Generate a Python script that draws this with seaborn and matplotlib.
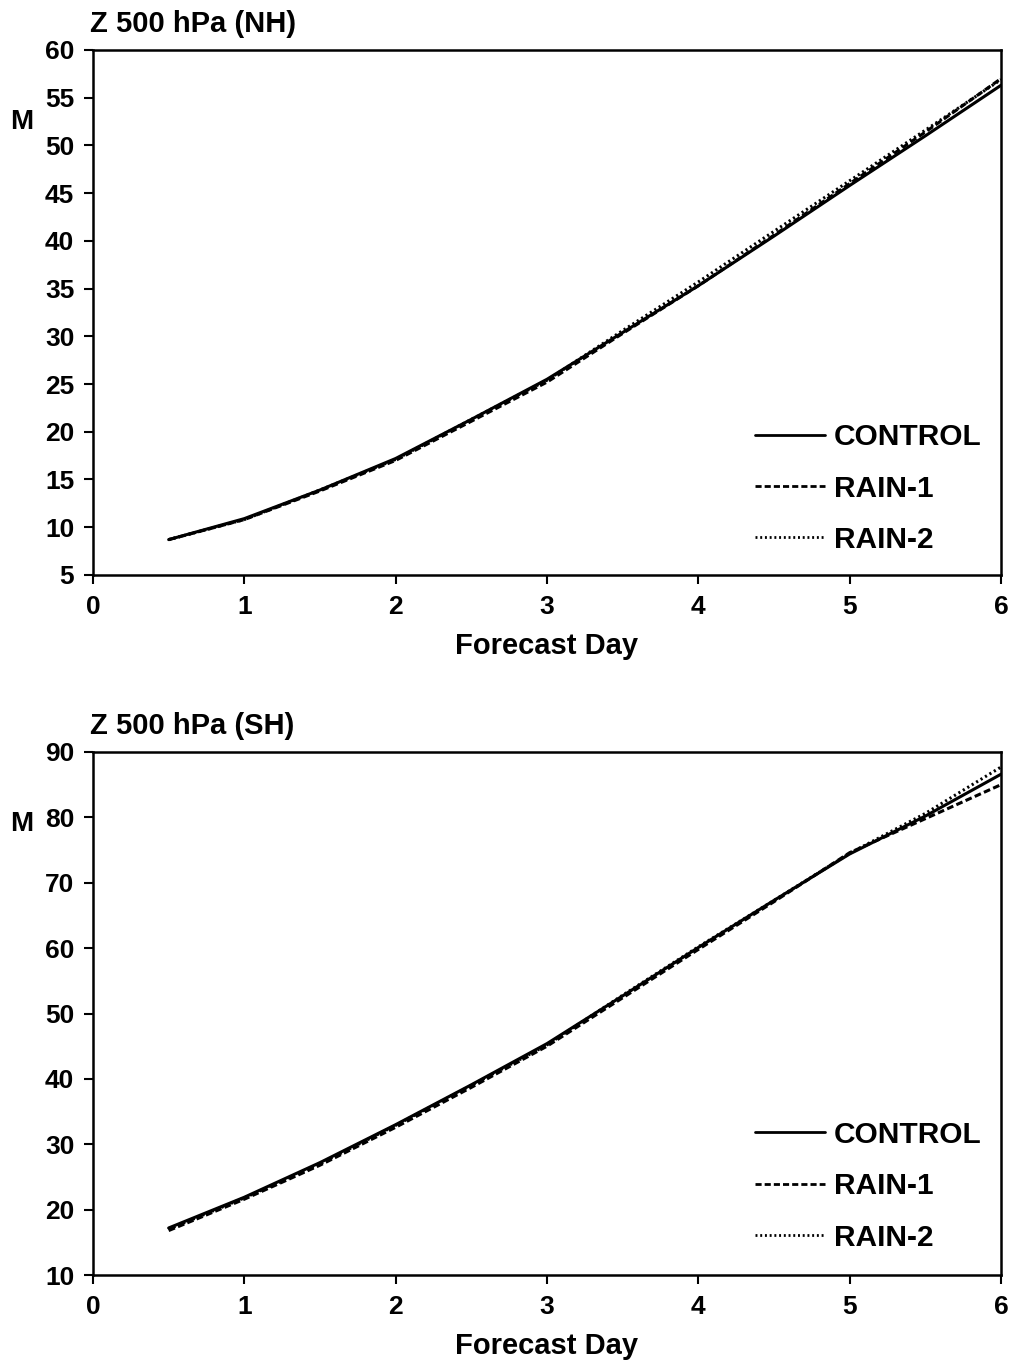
import numpy as np
import pandas as pd
import matplotlib
matplotlib.use('Agg')
import matplotlib.pyplot as plt
import seaborn as sns

##### data #####
days = [0.5, 1.0, 1.5, 2.0, 2.5, 3.0, 3.5, 4.0, 4.5, 5.0, 5.5, 6.0]

nh_control = [8.7, 10.9, 13.9, 17.2, 21.3, 25.5, 30.4, 35.3, 40.5, 45.8, 51.0, 56.3]
nh_rain1 = [8.7, 10.8, 13.8, 17.0, 21.1, 25.2, 30.3, 35.3, 40.6, 46.0, 51.4, 57.0]
nh_rain2 = [8.7, 10.8, 13.9, 17.1, 21.3, 25.4, 30.6, 35.7, 41.0, 46.3, 51.6, 56.9]

sh_control = [17.2, 21.9, 27.2, 33.0, 39.1, 45.4, 52.7, 60.1, 67.3, 74.4, 80.2, 86.6]
sh_rain1 = [16.8, 21.6, 26.8, 32.6, 38.7, 45.0, 52.4, 59.8, 67.1, 74.6, 79.8, 85.0]
sh_rain2 = [17.0, 21.8, 27.0, 32.9, 39.0, 45.2, 52.8, 60.2, 67.3, 74.5, 80.6, 87.7]

runs = ['CONTROL', 'RAIN-1', 'RAIN-2']

##### style #####
sns.set_style('ticks')
plt.rcParams['font.family'] = ['Liberation Sans', 'DejaVu Sans']
plt.rcParams['font.weight'] = 'bold'
for key in ['text.color', 'axes.labelcolor', 'xtick.color', 'ytick.color', 'axes.edgecolor']:
    plt.rcParams[key] = 'black'


def make_df(ctrl, r1, r2):
    frames = []
    for name, vals in zip(runs, [ctrl, r1, r2]):
        frames.append(pd.DataFrame({'Day': days, 'Value': vals, 'Run': name}))
    return pd.concat(frames, ignore_index=True)


panels = [
    {'title': 'Z 500 hPa (NH)', 'df': make_df(nh_control, nh_rain1, nh_rain2),
     'ylim': (5, 60), 'yticks': np.arange(5, 61, 5),
     'rect': [0.0917, 0.5788, 0.8955, 0.3846], 'leg_y': 0.04},
    {'title': 'Z 500 hPa (SH)', 'df': make_df(sh_control, sh_rain1, sh_rain2),
     'ylim': (10, 90), 'yticks': np.arange(10, 91, 10),
     'rect': [0.0917, 0.0659, 0.8955, 0.3832], 'leg_y': 0.045},
]

fig = plt.figure(figsize=(10.14, 13.65), dpi=100)

for p in panels:
    ax = fig.add_axes(p['rect'])
    sns.lineplot(data=p['df'], x='Day', y='Value', hue='Run', style='Run',
                 palette={r: 'black' for r in runs},
                 dashes={'CONTROL': '', 'RAIN-1': (2.2, 1.1), 'RAIN-2': (0.7, 1.0)},
                 linewidth=2.2, ax=ax)
    ax.set_xlim(0, 6)
    ax.set_ylim(*p['ylim'])
    ax.set_xticks(range(0, 7))
    ax.set_yticks(p['yticks'])
    ax.tick_params(labelsize=19, width=1.5, length=6.5, direction='out')
    ax.tick_params(axis='x', pad=8)
    ax.tick_params(axis='y', pad=7)
    for s in ax.spines.values():
        s.set_visible(True)
        s.set_linewidth(1.8)
    ax.set_xlabel('Forecast Day', fontsize=21, fontweight='bold', labelpad=9)
    ax.set_ylabel('')
    ax.text(-0.0914, 0.863, 'M', transform=ax.transAxes, fontsize=20,
            fontweight='bold', ha='left', va='center')
    ax.text(-0.003, 1.022, p['title'], transform=ax.transAxes, fontsize=21,
            fontweight='bold', ha='left', va='bottom')
    leg = ax.legend(loc='lower right', bbox_to_anchor=(0.979, p['leg_y']), frameon=False,
                    fontsize=21.5, handlelength=2.35, labelspacing=0.78,
                    handletextpad=0.3, borderaxespad=0, borderpad=0)
    for line in leg.get_lines():
        line.set_linewidth(2.0)
    for t in leg.get_texts():
        t.set_fontweight('bold')

fig.savefig('out.png', dpi=100)
